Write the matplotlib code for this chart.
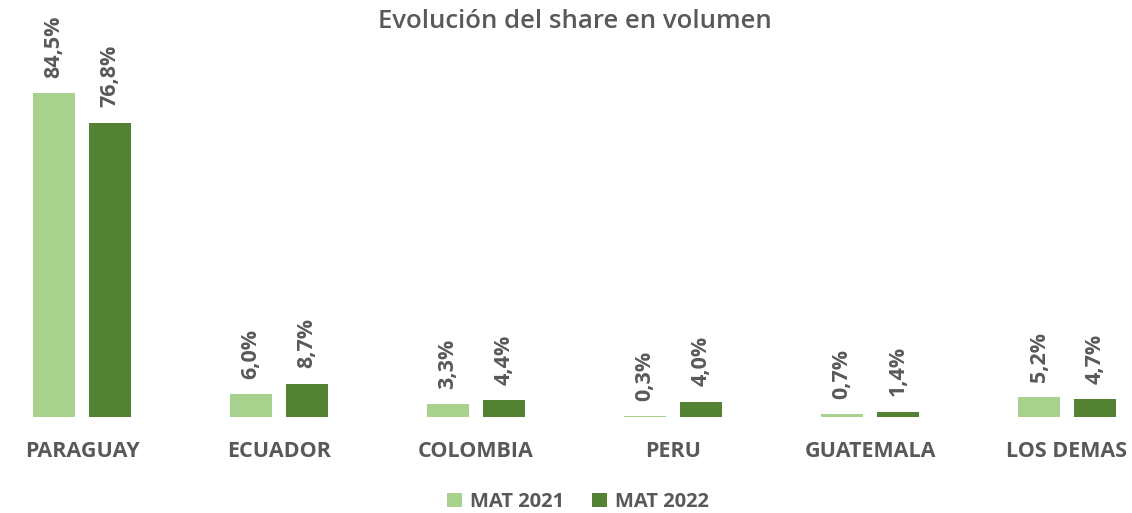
import matplotlib
matplotlib.use("Agg")
import matplotlib.pyplot as plt
import numpy as np

categories = ["PARAGUAY", "ECUADOR", "COLOMBIA", "PERU", "GUATEMALA", "LOS DEMAS"]
mat2021 = [84.5, 6.0, 3.3, 0.3, 0.7, 5.2]
mat2022 = [76.8, 8.7, 4.4, 4.0, 1.4, 4.7]
series_names = ["MAT 2021", "MAT 2022"]
colors = ["#A9D18E", "#548235"]
text_color = "#595959"

plt.rcParams['font.family'] = ['Open Sans', 'DejaVu Sans']

W, H = 1132, 513
fig = plt.figure(figsize=(W / 100, H / 100), dpi=100)
ax = fig.add_axes([0, (H - 417) / H, 1, 417 / H])

x = np.arange(len(categories))
bw = 0.218
off = 0.142
b1 = ax.bar(x - off, mat2021, width=bw, color=colors[0], label=series_names[0])
b2 = ax.bar(x + off, mat2022, width=bw, color=colors[1], label=series_names[1])

for bars, vals in ((b1, mat2021), (b2, mat2022)):
    for rect, v in zip(bars, vals):
        ax.annotate(f"{v:.1f}%".replace(".", ","),
                    (rect.get_x() + rect.get_width() / 2, rect.get_height()),
                    xytext=(0, 11), textcoords="offset points",
                    rotation=90, ha="center", va="bottom",
                    fontsize=15.5, fontweight="bold", color=text_color)

ax.set_xlim(-82 / 197, (W - 82) / 197)
ax.set_ylim(0, 417 / 3.834)
ax.set_xticks(x)
ax.set_xticklabels(categories, fontsize=15.5, fontweight="bold", color=text_color)
ax.tick_params(axis="x", length=0, pad=17)
ax.set_yticks([])
for s in ax.spines.values():
    s.set_visible(False)
ax.patch.set_alpha(0)

fig.text(575 / W, 1 - 22 / H, "Evolución del share en volumen", ha="center", va="center",
         fontsize=18.5, fontweight="semibold", color=text_color)

leg = fig.legend(handles=[b1, b2], labels=series_names, loc="center",
                 bbox_to_anchor=(578 / W, 1 - 502 / H), ncol=2, frameon=False,
                 fontsize=14.5, handlelength=0.75, handleheight=0.75,
                 handletextpad=0.4, columnspacing=1.4)
for t in leg.get_texts():
    t.set_color(text_color)
    t.set_fontweight("bold")

fig.savefig("out.png", dpi=100)
